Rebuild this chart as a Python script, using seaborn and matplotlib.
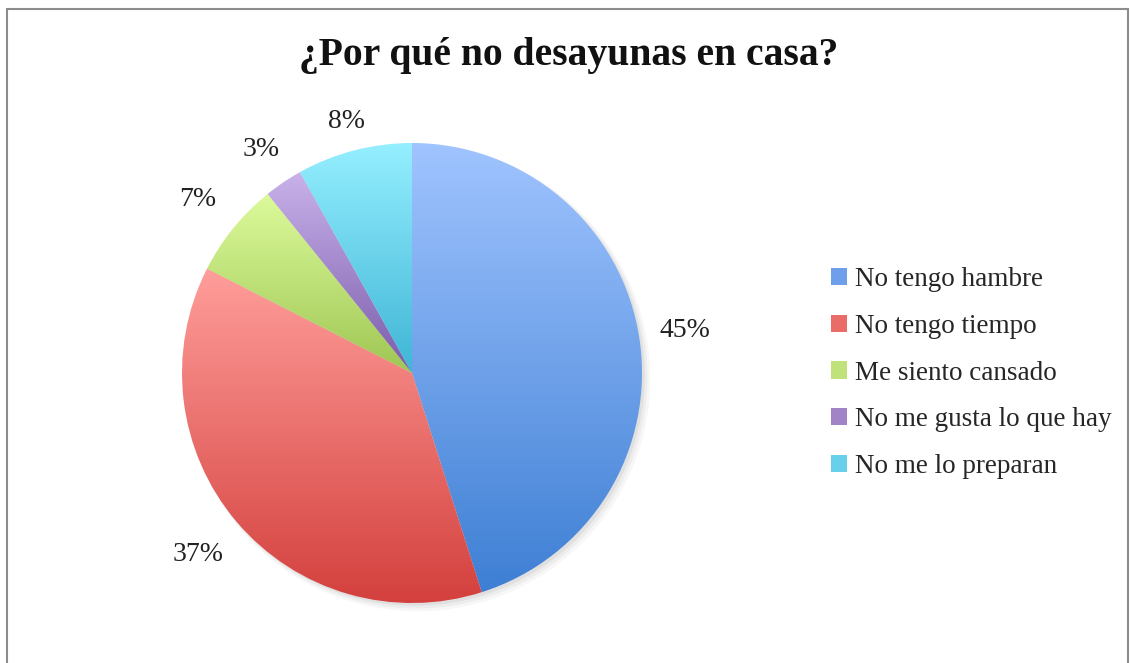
import numpy as np
import matplotlib
matplotlib.use("Agg")
import matplotlib.pyplot as plt
import seaborn as sns
from matplotlib.colors import LinearSegmentedColormap
from matplotlib.patches import Patch, Rectangle, Circle

# ---- data ----
categories = ["No tengo hambre", "No tengo tiempo", "Me siento cansado",
              "No me gusta lo que hay", "No me lo preparan"]
values = [45.1, 37.4, 6.7, 2.7, 8.1]
# light (top) / dark (bottom) colours of each gradient slice
top_colors = ["#a0c4ff", "#ff9e9b", "#dcfb9c", "#c9b2ea", "#95efff"]
bottom_colors = ["#3e7fd4", "#d33f3c", "#9fc653", "#7a5bab", "#3fb5d6"]
mid_colors = ["#6f9fea", "#ea6c69", "#c0e27a", "#a184c8", "#68d0ea"]
label_dist = [1.2, 1.22, 1.2, 1.17, 1.13]

sns.set_theme(style="white")
plt.rcParams["font.family"] = ["Liberation Serif", "DejaVu Serif"]

W, H = 1130, 663
fig = plt.figure(figsize=(W / 100, H / 100), dpi=100)

# pie axes: centre at (412, 373) px, radius 230 px
half = 240
ax = fig.add_axes([(412 - half) / W, (H - 373 - half) / H, 2 * half / W, 2 * half / H])
lim = half / 230

# soft shadow
for k, a in enumerate([0.05, 0.04, 0.03]):
    ax.add_patch(Circle((0.012 + 0.006 * k, -0.012 - 0.006 * k), 1.0 + 0.006 * k,
                        color="black", alpha=a, lw=0, zorder=0))

wedges, texts, autotexts = ax.pie(values, startangle=90, counterclock=False,
                                  colors=mid_colors, autopct="%.0f%%",
                                  pctdistance=1.2,
                                  wedgeprops=dict(linewidth=0),
                                  textprops=dict(fontsize=20, color="#222222"))

# move percentage labels to their own distances
for w, t, d in zip(wedges, autotexts, label_dist):
    ang = np.deg2rad((w.theta1 + w.theta2) / 2)
    t.set_position((d * np.cos(ang), d * np.sin(ang)))

# gradient fill per slice
for w, c0, c1 in zip(wedges, top_colors, bottom_colors):
    verts = w.get_path().vertices
    x0, x1 = verts[:, 0].min(), verts[:, 0].max()
    y0, y1 = verts[:, 1].min(), verts[:, 1].max()
    cmap = LinearSegmentedColormap.from_list("g", [c1, c0])
    grad = np.linspace(1, 0, 256).reshape(-1, 1)
    im = ax.imshow(grad, cmap=cmap, extent=[x0, x1, y0, y1], aspect="auto",
                   origin="upper", zorder=2, vmin=0, vmax=1)
    im.set_clip_path(w)
    w.set_facecolor("none")

ax.set_xlim(-lim, lim)
ax.set_ylim(-lim, lim)
ax.set_aspect("equal")
ax.axis("off")

# title
fig.text(569 / W, 1 - 56 / H, "¿Por qué no desayunas en casa?", ha="center", va="center",
         fontsize=28.5, fontweight="bold", color="#111111")

# legend
handles = [Patch(facecolor=c, edgecolor="none") for c in mid_colors]
fig.legend(handles, categories, loc="center left", bbox_to_anchor=(820 / W, 1 - 373 / H),
           frameon=False, fontsize=19.5, handlelength=0.6, handleheight=0.6,
           handletextpad=0.3, labelspacing=0.8, borderaxespad=0)

# chart frame
fig.patches.append(Rectangle((7 / W, -0.1), 1121 / W, 0.1 + 1 - 9 / H,
                             transform=fig.transFigure, fill=False,
                             edgecolor="#8c8c8c", linewidth=1.5))

fig.savefig("out.png", dpi=100, facecolor="white")
